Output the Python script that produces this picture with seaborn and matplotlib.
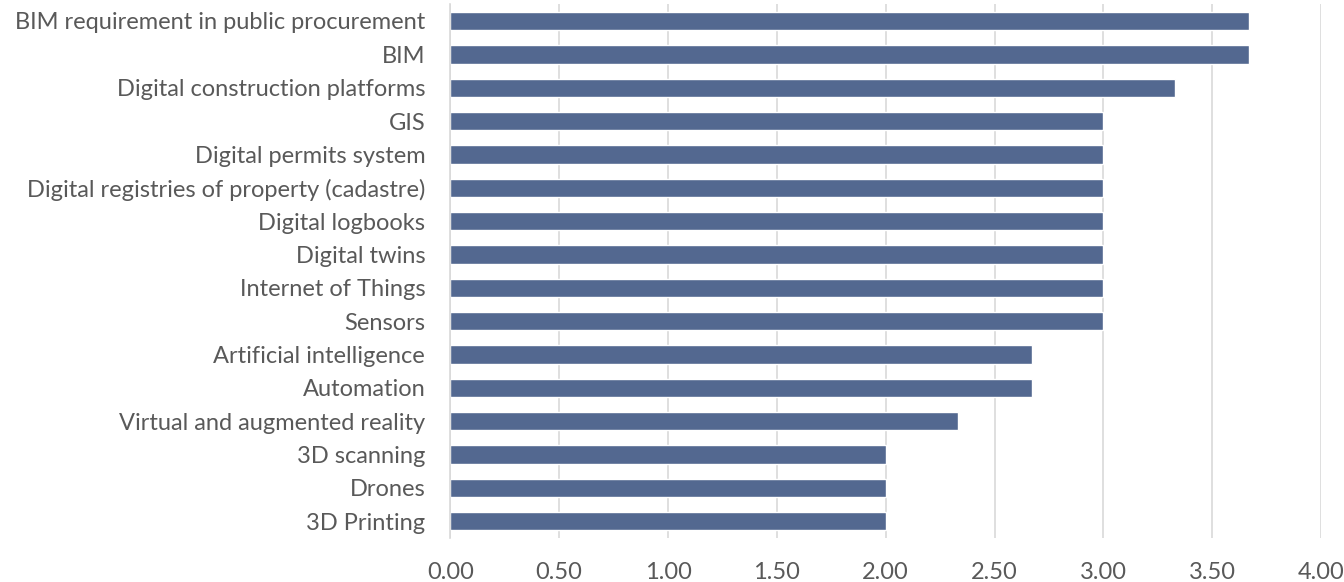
import matplotlib
matplotlib.use("Agg")
import matplotlib.pyplot as plt
import seaborn as sns
import pandas as pd
import numpy as np

categorias = [
    "BIM requirement in public procurement",
    "BIM",
    "Digital construction platforms",
    "GIS",
    "Digital permits system",
    "Digital registries of property (cadastre)",
    "Digital logbooks",
    "Digital twins",
    "Internet of Things",
    "Sensors",
    "Artificial intelligence",
    "Automation",
    "Virtual and augmented reality",
    "3D scanning",
    "Drones",
    "3D Printing",
]
valores = [3.67, 3.67, 3.33, 3.00, 3.00, 3.00, 3.00, 3.00, 3.00, 3.00,
           2.67, 2.67, 2.33, 2.00, 2.00, 2.00]
ticks_x = [0.0, 0.5, 1.0, 1.5, 2.0, 2.5, 3.0, 3.5, 4.0]

df = pd.DataFrame({"categoria": categorias, "valor": valores})

sns.set_style("white")
plt.rcParams["font.family"] = ["Lato", "DejaVu Sans"]

fig = plt.figure(figsize=(13.44, 5.82), dpi=100)
ax = fig.add_axes([0.335, 0.0756, 0.648, 0.917])

sns.barplot(data=df, y="categoria", x="valor", orient="h", color="#536890",
            saturation=1, width=0.55, ax=ax)

ax.set_xlim(0, 4)
ax.set_ylim(len(categorias) - 0.5, -0.5)
ax.set_xticks(ticks_x)
ax.set_xticklabels([f"{t:.2f}" for t in ticks_x])
ax.xaxis.grid(True, color="#d9d9d9", linewidth=1.2)
ax.set_axisbelow(True)
ax.set_xlabel("")
ax.set_ylabel("")

for lado in ["top", "right", "bottom"]:
    ax.spines[lado].set_visible(False)
ax.spines["left"].set_color("#d9d9d9")
ax.spines["left"].set_linewidth(1.2)

# marcas entre categorias, estilo Excel
ax.set_yticks(np.arange(-0.5, len(categorias), 1), minor=True)
ax.tick_params(axis="y", which="minor", length=6, color="#d9d9d9", width=1.2)
ax.tick_params(axis="y", which="major", length=0, pad=18, labelsize=17, labelcolor="#595959")
ax.tick_params(axis="x", length=0, pad=17, labelsize=17, labelcolor="#595959")

fig.savefig("out.png", dpi=100)
